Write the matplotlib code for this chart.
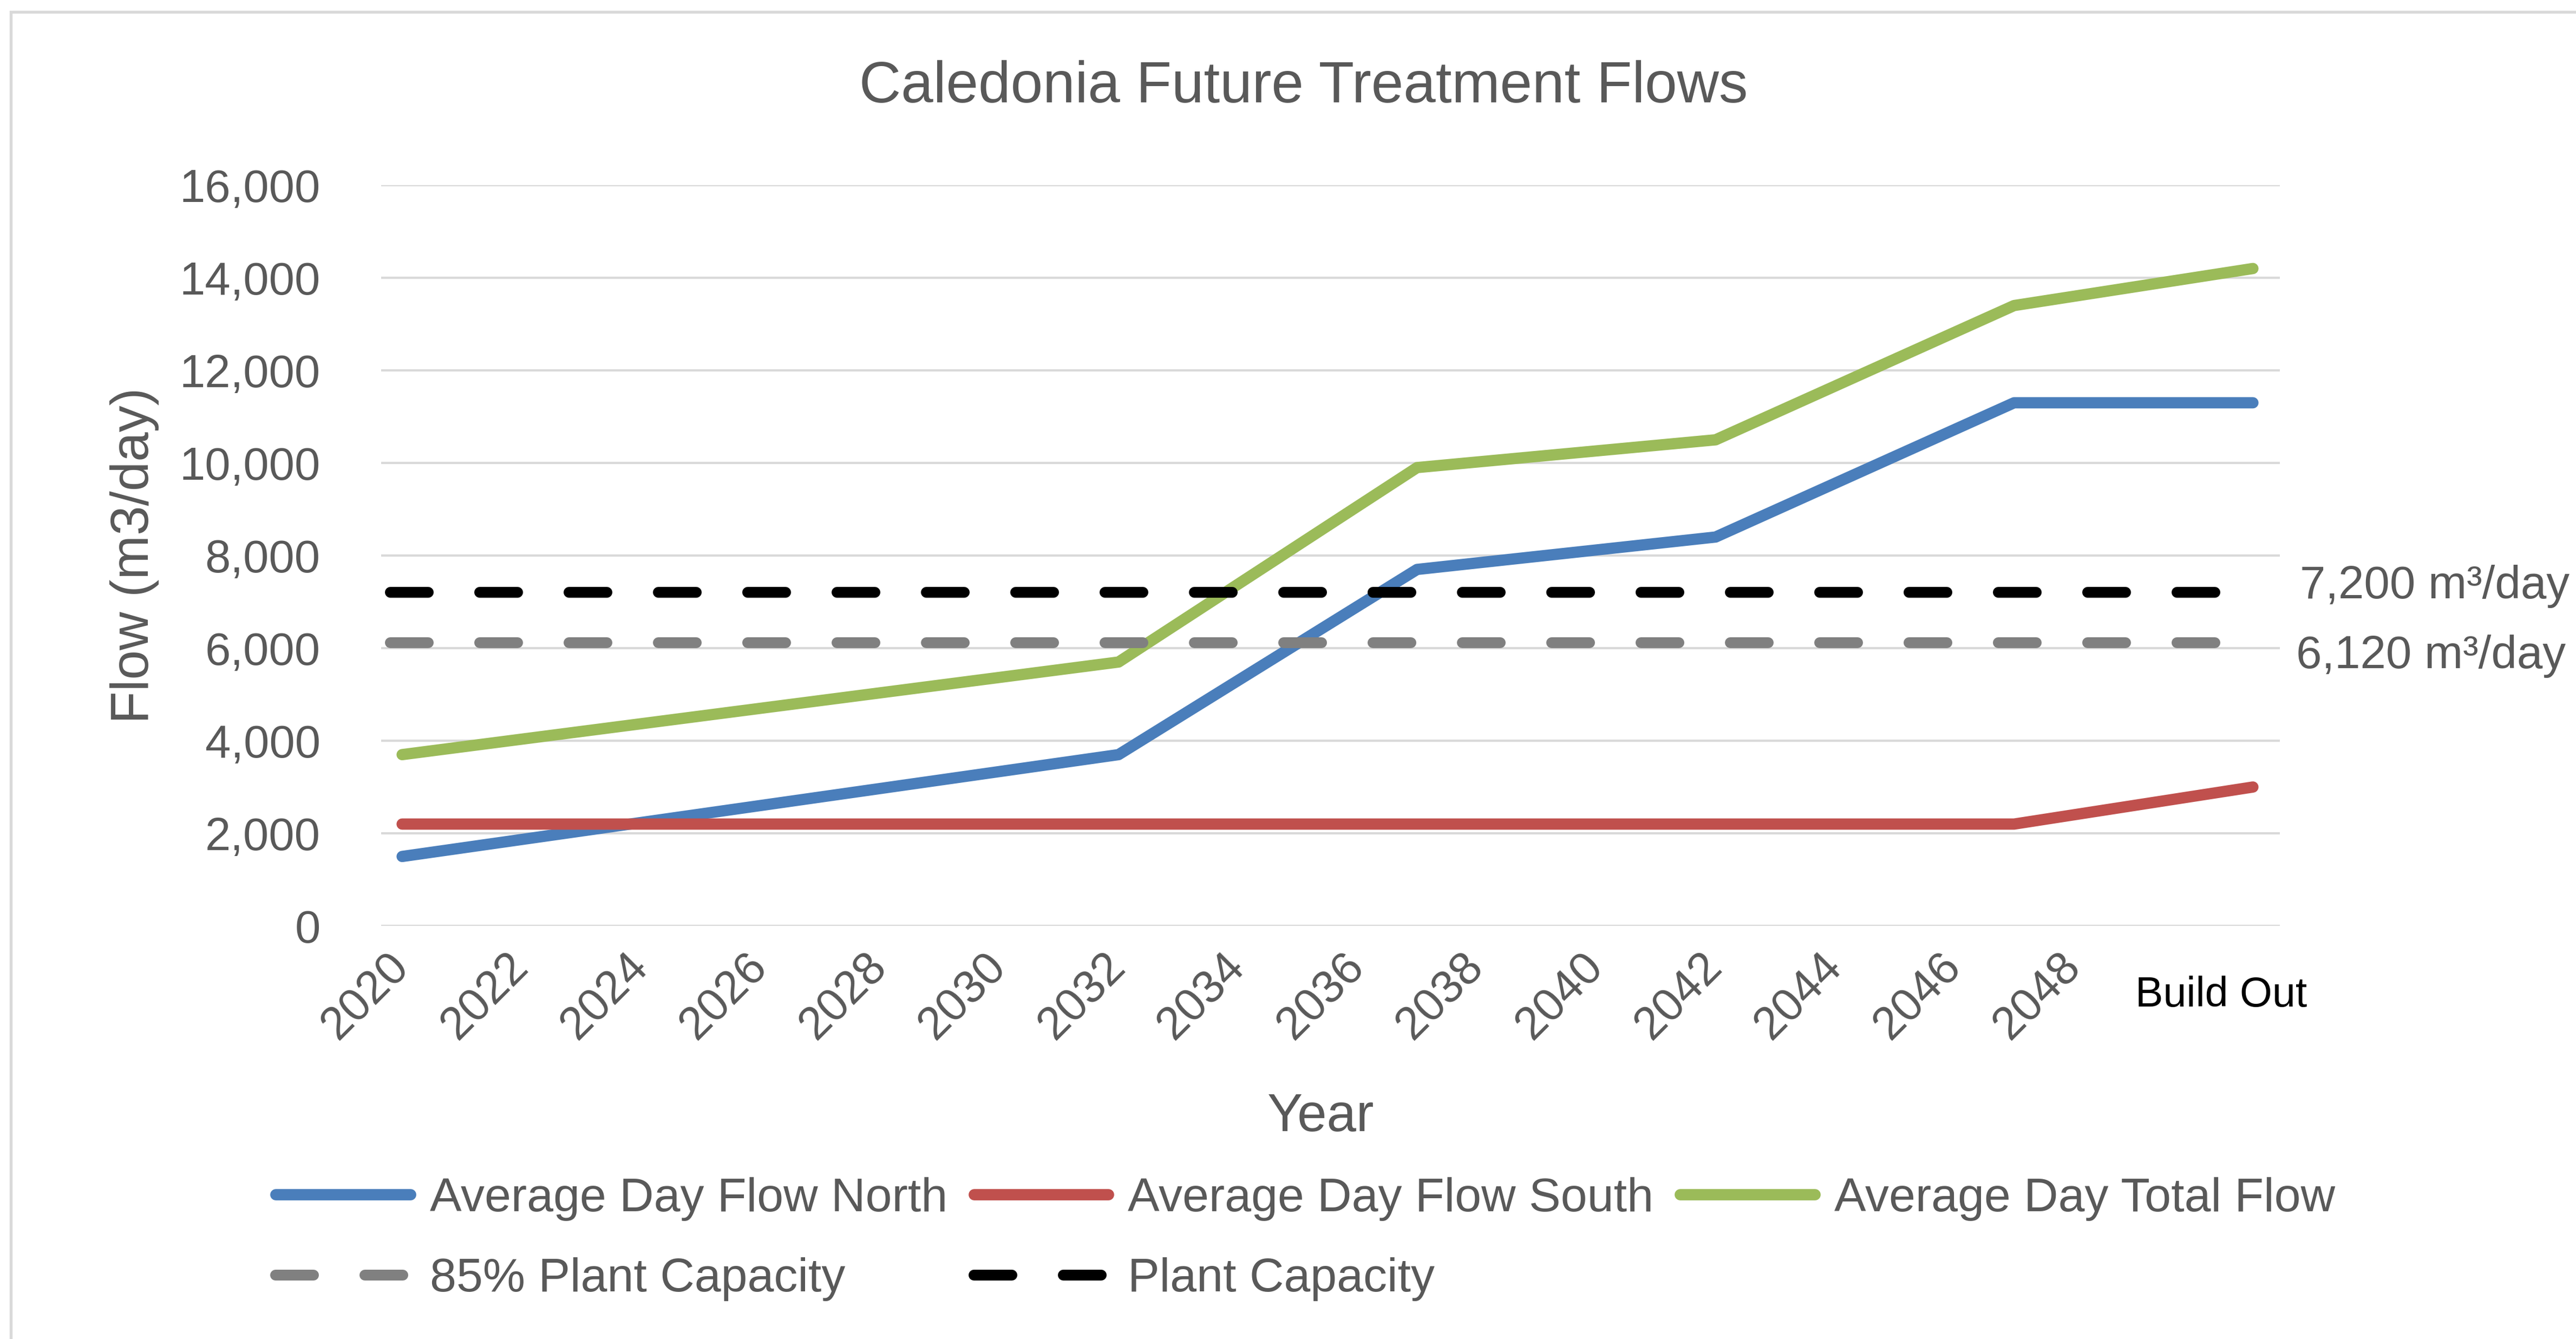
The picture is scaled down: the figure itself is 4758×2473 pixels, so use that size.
import matplotlib
matplotlib.use('Agg')
import matplotlib.pyplot as plt
from matplotlib.patches import Rectangle
from matplotlib.ticker import FuncFormatter, MultipleLocator
import matplotlib.transforms as mtransforms

plt.rcParams['font.family'] = ['Liberation Sans', 'DejaVu Sans']

# Data
years = [2020, 2032, 2037, 2042, 2047, 2051]   # last point is "Build Out"
flow_north = [1500, 3700, 7700, 8400, 11300, 11300]
flow_south = [2200, 2200, 2200, 2200, 2200, 3000]
flow_total = [3700, 5700, 9900, 10500, 13400, 14200]

capacity = 7200
capacity_85 = 6120
capacity_span = [2019.8, 2051.0]

tick_years = list(range(2020, 2049, 2))
build_out_label = 'Build Out'

GRAY_TEXT = '#595959'
COLORS = {
    'north': '#4A7EBB',
    'south': '#C0504D',
    'total': '#9BBB59',
    'cap85': '#808080',
    'cap': '#000000',
}

fig = plt.figure(figsize=(4758 / 300, 2473 / 300), dpi=300, facecolor='white')
ax = fig.add_axes([0.148, 0.3085, 0.737, 0.5532])

# chart area border (only top/left fall inside the image)
fig.patches.append(Rectangle((0.0042, -1.0), 2.0, 1.991, transform=fig.transFigure,
                             fill=False, edgecolor='#D9D9D9', lw=1.3, zorder=0))

line_kw = dict(lw=5.0, solid_capstyle='round', solid_joinstyle='round')
l_n, = ax.plot(years, flow_north, color=COLORS['north'], label='Average Day Flow North', **line_kw)
l_s, = ax.plot(years, flow_south, color=COLORS['south'], label='Average Day Flow South', **line_kw)
l_t, = ax.plot(years, flow_total, color=COLORS['total'], label='Average Day Total Flow', **line_kw)

dash_kw = dict(lw=4.8, dashes=(3.5, 4.75), dash_capstyle='round')
l_c85, = ax.plot(capacity_span, [capacity_85] * 2, color=COLORS['cap85'],
                 label='85% Plant Capacity', **dash_kw)
l_c, = ax.plot(capacity_span, [capacity] * 2, color=COLORS['cap'],
               label='Plant Capacity', **dash_kw)

ax.set_xlim(2019.65, 2051.45)
ax.set_ylim(0, 16000)
ax.yaxis.set_major_locator(MultipleLocator(2000))
ax.yaxis.set_major_formatter(FuncFormatter(lambda v, p: '{:,.0f}'.format(v)))
ax.set_xticks(tick_years)
ax.set_xticklabels([str(y) for y in tick_years], rotation=45, ha='right', va='center',
                   rotation_mode='anchor')

ax.grid(axis='y', color='#D9D9D9', lw=1.0)
ax.set_axisbelow(True)
for s in ax.spines.values():
    s.set_visible(False)
ax.tick_params(axis='both', length=0, labelsize=20.4, labelcolor=GRAY_TEXT)
ax.tick_params(axis='y', pad=27)
ax.tick_params(axis='x', pad=15)

ax.set_ylabel('Flow (m3/day)', fontsize=23.5, color=GRAY_TEXT)
ax.yaxis.set_label_coords(-0.117, 0.5)
ax.set_xlabel('Year', fontsize=23.5, color=GRAY_TEXT)
ax.xaxis.set_label_coords(0.495, -0.2585)
ax.xaxis.label.set_va('center')

fig.text(0.506, 0.935, 'Caledonia Future Treatment Flows', fontsize=25.7,
         color=GRAY_TEXT, ha='center', va='center')

# build-out category label
trans = mtransforms.blended_transform_factory(ax.transData, ax.transAxes)
ax.annotate(build_out_label, xy=(years[-1], -0.094), xycoords=trans,
            xytext=(-14, 0), textcoords='offset points', fontsize=18.5,
            color='black', ha='center', va='center', annotation_clip=False)

# capacity annotations
trans_r = mtransforms.blended_transform_factory(ax.transAxes, ax.transData)
ax.text(1.0106, capacity + 130, '7,200 m³/day', transform=trans_r,
        fontsize=20.5, color=GRAY_TEXT, ha='left', va='center', clip_on=False)
ax.text(1.0086, capacity_85 - 300, '6,120 m³/day', transform=trans_r,
        fontsize=20.5, color=GRAY_TEXT, ha='left', va='center', clip_on=False)

handles = [l_n, l_c85, l_s, l_c, l_t]
fig.legend(handles=handles, labels=[h.get_label() for h in handles], ncol=3,
           loc='upper left', bbox_to_anchor=(0.107, 0.121), frameon=False,
           fontsize=21.1, labelcolor=GRAY_TEXT, handlelength=2.83, handletextpad=0.41,
           columnspacing=0.55, labelspacing=0.77, borderpad=0, borderaxespad=0)

fig.savefig('out.png', dpi=300, facecolor='white')
